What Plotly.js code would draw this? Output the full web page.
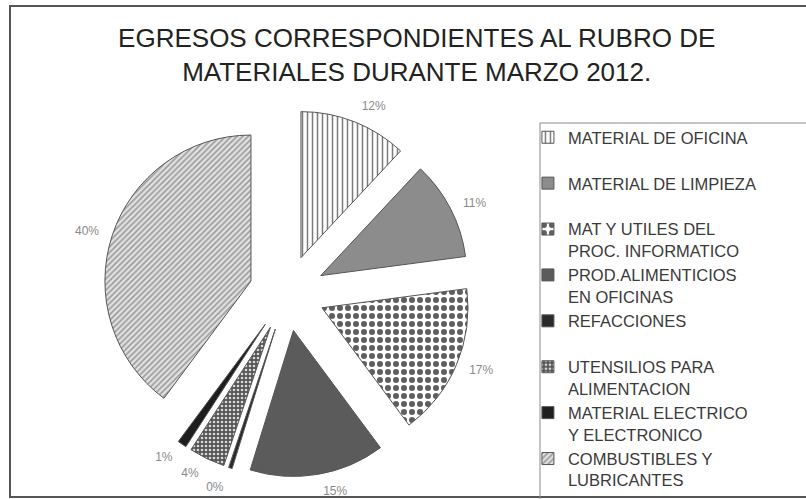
<!DOCTYPE html>
<html>
<head>
<meta charset="utf-8">
<script src="https://cdn.plot.ly/plotly-3.0.1.min.js"></script>
<style>
html,body{margin:0;padding:0;background:#fff;}
#chart{width:806px;height:499px;}
#chart path.textline{display:none !important;}
</style>
</head>
<body>
<div id="chart"></div>
<script>
// Data
const categories = [
  "MATERIAL DE OFICINA<br>&nbsp;",
  "MATERIAL DE LIMPIEZA<br>&nbsp;",
  "MAT Y UTILES DEL<br>PROC. INFORMATICO",
  "PROD.ALIMENTICIOS<br>EN OFICINAS",
  "REFACCIONES<br>&nbsp;",
  "UTENSILIOS PARA<br>ALIMENTACION",
  "MATERIAL ELECTRICO<br>Y ELECTRONICO",
  "COMBUSTIBLES Y<br>LUBRICANTES"
];
const values = [12, 11, 17, 15, 0.4, 4, 1, 40];

const sliceColors   = ["#ffffff", "#8c8c8c", "#ffffff", "#5b5b5b", "#2a2a2a", "#555555", "#1e1e1e", "#e2e2e2"];
const patternShapes = ["|", "", ".", "", "", ".", "", "/"];
const patternFg     = ["#7a7a7a", "#8c8c8c", "#5e5e5e", "#5b5b5b", "#2a2a2a", "#d8d8d8", "#1e1e1e", "#9a9a9a"];
const patternSize   = [5, 8, 8, 8, 8, 4, 8, 4];
const patternSolid  = [0.3, 0.3, 0.45, 0.3, 0.3, 0.35, 0.3, 0.4];

const labelFont = {family: "Liberation Sans, Arial, sans-serif", size: 12, color: "#8a8a8a"};

// Main pie (slices + legend)
const trace = {
  type: "pie",
  labels: categories,
  values: values,
  sort: false,
  direction: "clockwise",
  rotation: 0,
  pull: 0.26,
  domain: {x: [0.1278, 0.5844], y: [0.0441, 0.7816]},
  marker: {
    colors: sliceColors,
    line: {color: "#555555", width: 1},
    pattern: {
      shape: patternShapes,
      fgcolor: patternFg,
      bgcolor: sliceColors,
      size: patternSize,
      solidity: patternSolid
    }
  },
  textinfo: "none",
  hoverinfo: "label+percent"
};

// Same data, transparent, slightly larger: only carries the percentage labels a bit further out
const labelTrace = {
  type: "pie",
  labels: categories,
  values: values,
  sort: false,
  direction: "clockwise",
  rotation: 0,
  pull: 0.26,
  showlegend: false,
  domain: {x: [0.1154, 0.5968], y: [0.0241, 0.8016]},
  marker: {colors: sliceColors.map(() => "rgba(0,0,0,0)"), line: {width: 0}},
  texttemplate: "%{percent:.0%}",
  textposition: "outside",
  outsidetextfont: labelFont,
  hoverinfo: "skip"
};

const layout = {
  width: 806,
  height: 499,
  margin: {l: 0, r: 0, t: 0, b: 0, autoexpand: false},
  paper_bgcolor: "#ffffff",
  plot_bgcolor: "#ffffff",
  title: {
    text: "EGRESOS CORRESPONDIENTES AL RUBRO DE<br>MATERIALES DURANTE MARZO 2012.",
    font: {family: "Liberation Sans, Arial, sans-serif", size: 26, color: "#222222"},
    x: 0.517, xanchor: "center",
    y: 0.906, yanchor: "top",
    yref: "container"
  },
  showlegend: true,
  legend: {
    x: 0.655, xanchor: "left",
    y: 0.7595, yanchor: "top",
    valign: "top",
    font: {family: "Liberation Sans, Arial, sans-serif", size: 16.5, color: "#3a3a3a"},
    bgcolor: "rgba(0,0,0,0)",
    borderwidth: 0
  },
  shapes: [
    {type: "rect", xref: "paper", yref: "paper", x0: 10/806, x1: 1.02, y0: 1 - 497/499, y1: 1 - 6/499,
     line: {color: "#555555", width: 2}, fillcolor: "rgba(0,0,0,0)"},
    {type: "rect", xref: "paper", yref: "paper", x0: 540/806, x1: 1.02, y0: -0.02, y1: 1 - 123/499,
     line: {color: "#8a8a8a", width: 1}, fillcolor: "rgba(0,0,0,0)"}
  ]
};

Plotly.newPlot("chart", [trace, labelTrace], layout, {displayModeBar: false, staticPlot: true});
</script>
</body>
</html>
